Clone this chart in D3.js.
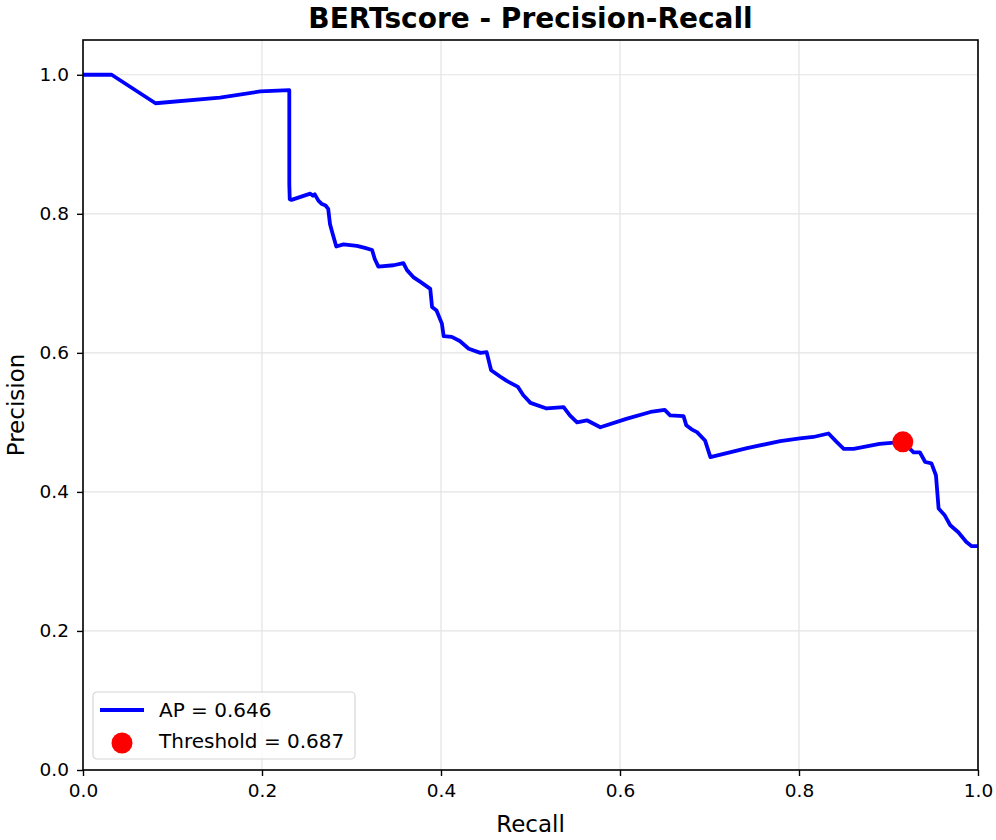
<!DOCTYPE html>
<html><head><meta charset="utf-8">
<script src="https://cdn.jsdelivr.net/npm/d3@7"></script>
<style>body{margin:0;background:#fff;} svg{display:block;font-family:"DejaVu Sans",sans-serif;}</style>
</head><body>
<script>
const recall = [0, 0.032, 0.081, 0.153, 0.198, 0.2305, 0.2305, 0.231, 0.233, 0.254, 0.257, 0.259, 0.263, 0.267, 0.271, 0.274, 0.276, 0.279, 0.283, 0.291, 0.306, 0.315, 0.323, 0.326, 0.330, 0.347, 0.358, 0.362, 0.369, 0.377, 0.388, 0.390, 0.395, 0.401, 0.403, 0.412, 0.421, 0.431, 0.444, 0.451, 0.456, 0.466, 0.473, 0.486, 0.492, 0.500, 0.518, 0.537, 0.544, 0.552, 0.563, 0.578, 0.607, 0.634, 0.650, 0.656, 0.671, 0.674, 0.680, 0.686, 0.695, 0.701, 0.742, 0.779, 0.801, 0.816, 0.833, 0.842, 0.850, 0.861, 0.890, 0.916, 0.928, 0.935, 0.941, 0.948, 0.953, 0.956, 0.963, 0.969, 0.978, 0.987, 0.993, 1.0];
const precision = [1.0, 1.0, 0.959, 0.967, 0.976, 0.978, 0.843, 0.821, 0.820, 0.829, 0.826, 0.828, 0.819, 0.814, 0.812, 0.807, 0.785, 0.771, 0.753, 0.756, 0.754, 0.751, 0.748, 0.735, 0.724, 0.726, 0.729, 0.719, 0.709, 0.702, 0.692, 0.666, 0.661, 0.642, 0.624, 0.623, 0.617, 0.606, 0.600, 0.601, 0.575, 0.566, 0.560, 0.551, 0.539, 0.528, 0.520, 0.522, 0.510, 0.500, 0.503, 0.493, 0.505, 0.515, 0.518, 0.510, 0.509, 0.496, 0.490, 0.486, 0.474, 0.450, 0.463, 0.473, 0.477, 0.479, 0.484, 0.472, 0.462, 0.462, 0.469, 0.472, 0.457, 0.457, 0.443, 0.441, 0.424, 0.376, 0.366, 0.352, 0.342, 0.328, 0.322, 0.322];
const thresholdPoint = {recall: 0.916, precision: 0.472};
const xTicks = [0, 0.2, 0.4, 0.6, 0.8, 1.0];
const yTicks = [0, 0.2, 0.4, 0.6, 0.8, 1.0];
const titleText = "BERTscore - Precision-Recall";
const legendLabels = ["AP = 0.646", "Threshold = 0.687"];

const W = 996, H = 840;
const m = {left: 83, right: 18, top: 40, bottom: 70};
const svg = d3.select("body").append("svg").attr("width", W).attr("height", H);
const x = d3.scaleLinear().domain([0, 1]).range([m.left, W - m.right]);
const y = d3.scaleLinear().domain([0, 1.05]).range([H - m.bottom, m.top]);

// grid
svg.append("g").selectAll("line").data(xTicks).join("line")
  .attr("x1", d => x(d)).attr("x2", d => x(d)).attr("y1", y(0)).attr("y2", y(1.05))
  .attr("stroke", "#e3e3e3").attr("stroke-width", 1.2);
svg.append("g").selectAll("line").data(yTicks).join("line")
  .attr("y1", d => y(d)).attr("y2", d => y(d)).attr("x1", x(0)).attr("x2", x(1))
  .attr("stroke", "#e3e3e3").attr("stroke-width", 1.2);

// line
const pts = recall.map((r, i) => [r, precision[i]]);
svg.append("path").datum(pts)
  .attr("d", d3.line().x(d => x(d[0])).y(d => y(d[1])))
  .attr("fill", "none").attr("stroke", "#0000ff").attr("stroke-width", 3.8)
  .attr("stroke-linejoin", "round");

// threshold point
svg.append("circle").attr("cx", x(thresholdPoint.recall)).attr("cy", y(thresholdPoint.precision))
  .attr("r", 10.5).attr("fill", "#ff0000");

// frame
svg.append("rect").attr("x", x(0)).attr("y", y(1.05)).attr("width", x(1) - x(0)).attr("height", y(0) - y(1.05))
  .attr("fill", "none").attr("stroke", "#000").attr("stroke-width", 1.6);

// axes
const xa = svg.append("g").attr("transform", `translate(0,${y(0)})`)
  .call(d3.axisBottom(x).tickValues(xTicks).tickFormat(d3.format(".1f")).tickSize(6).tickPadding(8));
const ya = svg.append("g").attr("transform", `translate(${x(0)},0)`)
  .call(d3.axisLeft(y).tickValues(yTicks).tickFormat(d3.format(".1f")).tickSize(6).tickPadding(8));
[xa, ya].forEach(a => {
  a.select(".domain").remove();
  a.selectAll("text").attr("font-size", 18.5).attr("font-family", "DejaVu Sans").attr("fill", "#000");
  a.selectAll("line").attr("stroke", "#000").attr("stroke-width", 1.4);
});

// title & labels
svg.append("text").attr("x", (x(0) + x(1)) / 2).attr("y", 28).attr("text-anchor", "middle")
  .attr("font-size", 28).attr("font-weight", "bold").text(titleText);
svg.append("text").attr("x", (x(0) + x(1)) / 2).attr("y", 832).attr("text-anchor", "middle")
  .attr("font-size", 23).text("Recall");
svg.append("text").attr("transform", `translate(24,${(y(0) + y(1.05)) / 2}) rotate(-90)`)
  .attr("text-anchor", "middle").attr("font-size", 23).text("Precision");

// legend
const lg = svg.append("g").attr("transform", "translate(93,692)");
lg.append("rect").attr("width", 262).attr("height", 67).attr("rx", 4)
  .attr("fill", "#fff").attr("fill-opacity", 0.8).attr("stroke", "#d6d6d6").attr("stroke-width", 1.2);
lg.append("line").attr("x1", 7).attr("x2", 51).attr("y1", 18).attr("y2", 18)
  .attr("stroke", "#0000ff").attr("stroke-width", 3.8);
lg.append("circle").attr("cx", 29).attr("cy", 51).attr("r", 10.5).attr("fill", "#ff0000");
lg.selectAll("text.l").data(legendLabels).join("text").attr("class", "l")
  .attr("x", 66).attr("y", (d, i) => 25 + i * 31).attr("font-size", 20).text(d => d);
</script>
</body></html>
